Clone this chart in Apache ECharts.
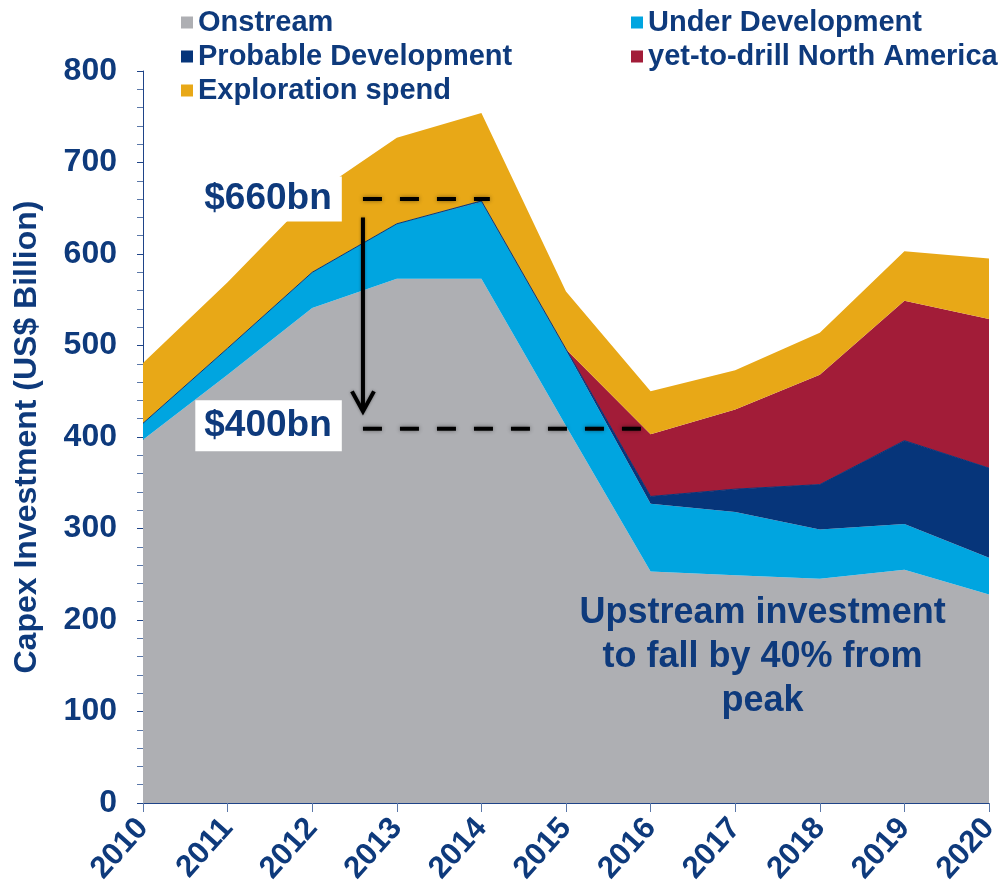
<!DOCTYPE html>
<html>
<head>
<meta charset="utf-8">
<script src="https://cdn.jsdelivr.net/npm/echarts@6/dist/echarts.min.js"></script>
<style>
  html, body { margin: 0; padding: 0; background: #fff; }
  #main { width: 1002px; height: 888px; }
</style>
</head>
<body>
<div id="main"></div>
<script>
// categories and stacked series (US$ bn)
const years = ['2010', '2011', '2012', '2013', '2014', '2015', '2016', '2017', '2018', '2019', '2020'];
const onstream = [397, 468, 541, 573, 573, 412, 253, 249, 245, 255, 228];
const underDev = [18, 29, 39, 60, 84, 83, 74, 69, 54, 50, 40];
const probableDev = [0, 0, 0, 0, 1, 1, 8, 25, 49, 91, 98];
const yetToDrill = [0, 0, 0, 0, 0, 0, 68, 87, 120, 153, 163];
const exploration = [66, 72, 84, 94, 96, 63, 47, 43, 46, 54, 66];

// annotation levels
const peakLevel = 660;
const lowLevel = 409;
const arrowFrom = 640;
const arrowTo = 428;

const navy = '#0E3A7C';
const font = 'Liberation Sans, Arial, sans-serif';

const myChart = echarts.init(document.getElementById('main'));

function area(name, data, color, line) {
  return {
    name: name,
    type: 'line',
    stack: 'capex',
    data: data,
    symbol: 'none',
    color: color,
    lineStyle: line ? { width: 1, color: '#06357A' } : { width: 0 },
    areaStyle: { color: color, opacity: 1 },
    emphasis: { disabled: true }
  };
}

const legendText = { color: navy, fontSize: 29, fontWeight: 'bold', fontFamily: font, lineHeight: 29 };

const option = {
  animation: false,
  grid: { left: 143, right: 13, top: 71, bottom: 85, containLabel: false, outerBoundsMode: 'none' },
  legend: [
    {
      orient: 'vertical', left: 176, top: 3, itemGap: 5,
      itemWidth: 12, itemHeight: 12, icon: 'rect',
      data: ['Onstream', 'Probable Development', 'Exploration spend'],
      textStyle: legendText
    },
    {
      orient: 'vertical', left: 626, top: 3, itemGap: 5,
      itemWidth: 12, itemHeight: 12, icon: 'rect',
      data: ['Under Development', 'yet-to-drill North America'],
      textStyle: legendText
    }
  ],
  xAxis: {
    type: 'category',
    boundaryGap: false,
    data: years,
    axisLine: { lineStyle: { color: '#1F4488', width: 1 } },
    axisTick: { show: true, length: 9, lineStyle: { color: '#5A77A8' } },
    axisLabel: {
      rotate: 48, margin: 20, interval: 0,
      color: navy, fontSize: 31, fontWeight: 'bold', fontFamily: font
    }
  },
  yAxis: {
    type: 'value',
    min: 0, max: 800, interval: 100,
    name: 'Capex Investment (US$ Billion)',
    nameLocation: 'middle',
    nameGap: 100,
    nameTextStyle: { color: navy, fontSize: 32, fontWeight: 'bold', fontFamily: font },
    axisLine: { show: true, lineStyle: { color: '#1F4488', width: 1 } },
    axisTick: { show: true, length: 6, lineStyle: { color: '#1F4488' } },
    minorTick: { show: true, splitNumber: 5, length: 6, lineStyle: { color: '#5A77A8' } },
    splitLine: { show: false },
    axisLabel: { margin: 26, color: navy, fontSize: 32, fontWeight: 'bold', fontFamily: font }
  },
  series: [
    area('Onstream', onstream, '#AEAFB3'),
    area('Under Development', underDev, '#00A5E0'),
    area('Probable Development', probableDev, '#06357A', true),
    area('yet-to-drill North America', yetToDrill, '#A21C38'),
    area('Exploration spend', exploration, '#E8A817')
  ]
};

myChart.setOption(option);

// annotations placed through the chart's own scales
function px(yearPos, value) {
  const a = myChart.convertToPixel({ gridIndex: 0 }, [0, 0]);
  const b = myChart.convertToPixel({ gridIndex: 0 }, [years.length - 1, 0]);
  const x = a[0] + (b[0] - a[0]) * (yearPos - 2010) / (years.length - 1);
  const y = myChart.convertToPixel({ yAxisIndex: 0 }, value);
  return [x, y];
}

const dash = { stroke: '#000', lineWidth: 4, lineDash: [19, 18], shadowBlur: 4, shadowColor: 'rgba(0,0,0,0.45)' };
const p1 = px(2012.6, peakLevel), p2 = px(2014.1, peakLevel);
const q1 = px(2012.6, lowLevel), q2 = px(2016.0, lowLevel);
const a1 = px(2012.6, arrowFrom), a2 = px(2012.6, arrowTo);
const boxText = { fill: navy, fontSize: 37, fontWeight: 'bold', fontFamily: font, backgroundColor: '#fff', padding: [4, 10, 4, 9] };
const t1 = px(2012.35, peakLevel), t2 = px(2012.35, lowLevel);
const note = px(2017.3, 200);

myChart.setOption({
  graphic: [
    { type: 'line', shape: { x1: p1[0], y1: p1[1], x2: p2[0], y2: p2[1] }, style: dash, z: 100 },
    { type: 'line', shape: { x1: q1[0], y1: q1[1], x2: q2[0], y2: q2[1] }, style: dash, z: 100 },
    { type: 'line', shape: { x1: a1[0], y1: a1[1], x2: a2[0], y2: a2[1] - 2 },
      style: { stroke: '#000', lineWidth: 4, shadowBlur: 3, shadowColor: 'rgba(0,0,0,0.4)' }, z: 100 },
    { type: 'polyline', shape: { points: [[a2[0] - 11, a2[1] - 20], [a2[0], a2[1]], [a2[0] + 11, a2[1] - 20]] },
      style: { stroke: '#000', lineWidth: 4, fill: null, shadowBlur: 3, shadowColor: 'rgba(0,0,0,0.4)' }, z: 100 },
    { type: 'text', x: t1[0], y: t1[1], z: 101,
      style: Object.assign({ text: '$660bn', align: 'right', verticalAlign: 'middle' }, boxText) },
    { type: 'text', x: t2[0], y: t2[1] - 3, z: 101,
      style: Object.assign({ text: '$400bn', align: 'right', verticalAlign: 'middle' }, boxText, { padding: [8, 10, 6, 9] }) },
    { type: 'text', x: note[0] + 2, y: note[1] + 37, z: 101,
      style: { text: 'Upstream investment\nto fall by 40% from\npeak', align: 'center', verticalAlign: 'middle',
        fill: navy, fontSize: 36, lineHeight: 44, fontWeight: 'bold', fontFamily: font } }
  ]
});
</script>
</body>
</html>
